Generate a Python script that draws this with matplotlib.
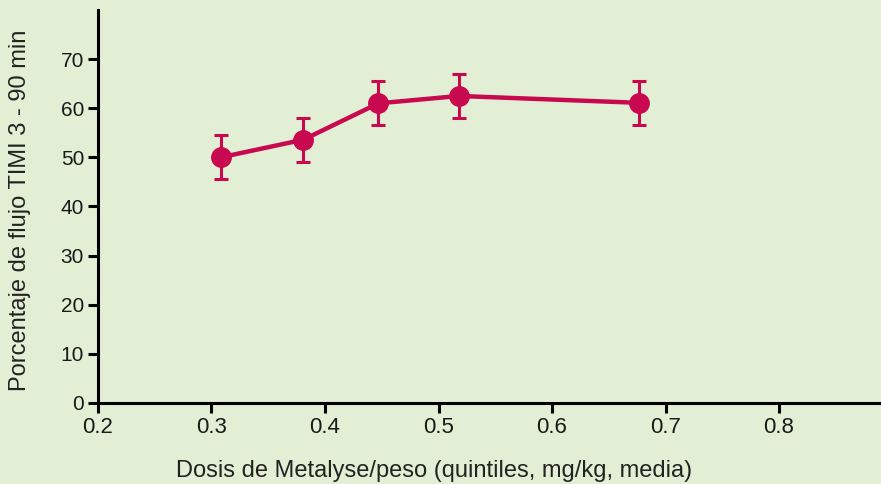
import matplotlib
matplotlib.use("Agg")
import matplotlib.pyplot as plt

dose = [0.308, 0.381, 0.447, 0.518, 0.677]
pct = [50.0, 53.6, 61.0, 62.5, 61.1]
err = [4.5, 4.5, 4.5, 4.5, 4.5]
xticks = [0.2, 0.3, 0.4, 0.5, 0.6, 0.7, 0.8]
yticks = [0, 10, 20, 30, 40, 50, 60, 70]

bg = "#E2EFD4"
red = "#C8084F"
plt.rcParams['font.family'] = ['Liberation Sans', 'DejaVu Sans']

fig = plt.figure(figsize=(8.81, 4.84), dpi=100, facecolor=bg)
ax = fig.add_axes([98/881, (484-403)/484, 1 - 98/881, (403-10)/484])
ax.set_facecolor(bg)

ax.errorbar(dose, pct, yerr=err, color=red, lw=3.2, marker="o", ms=14,
            elinewidth=2.2, capsize=5, capthick=2.2, zorder=3)

ax.set_xlim(0.2, 0.2 + (881-98)/1135)
ax.set_ylim(0, 80)
ax.set_xticks(xticks)
ax.set_xticklabels([f"{v:.1f}" for v in xticks], fontsize=16)
ax.set_yticks(yticks)
ax.set_yticklabels([str(v) for v in yticks], fontsize=15)
for s in ["top", "right"]:
    ax.spines[s].set_visible(False)
for s in ["left", "bottom"]:
    ax.spines[s].set_linewidth(2.2)
ax.tick_params(axis="both", direction="out", length=7, width=2.2, color="black", labelcolor="#1a1a1a", pad=3)

ax.set_ylabel("Porcentaje de flujo TIMI 3 - 90 min", fontsize=17, color="#222222")
ax.yaxis.set_label_coords(-0.085, 0.49)
ax.set_xlabel("Dosis de Metalyse/peso (quintiles, mg/kg, media)", fontsize=17,
              color="#222222")
ax.xaxis.set_label_coords(0.429, -0.145)

fig.savefig("out.png", dpi=100, facecolor=bg)
